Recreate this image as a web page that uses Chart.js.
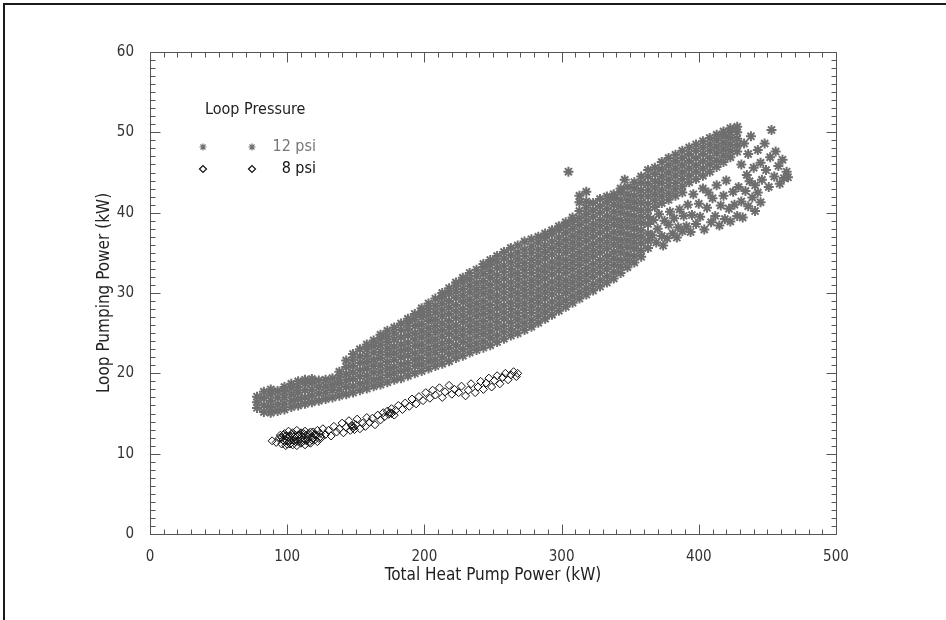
<!DOCTYPE html>
<html><head><meta charset="utf-8">
<script src="https://cdn.jsdelivr.net/npm/chart.js@4/dist/chart.umd.min.js"></script>
<style>
html,body{margin:0;padding:0;background:#fff;}
#wrap{position:relative;width:946px;height:620px;overflow:hidden;}
#frame{position:absolute;left:3px;top:3px;width:960px;height:640px;border-left:2px solid #1a1a1a;border-top:2px solid #1a1a1a;pointer-events:none;}
</style></head><body>
<div id="wrap"><canvas id="c" width="946" height="620"></canvas><div id="frame"></div></div>
<script>
const FONT = "'Liberation Sans Narrow','Arial Narrow','DejaVu Sans Condensed',sans-serif";
const xTickValues = [0,100,200,300,400,500];
const yTickValues = [0,10,20,30,40,50,60];
const xTitle = 'Total Heat Pump Power (kW)';
const yTitle = 'Loop Pumping Power (kW)';
const legendTitle = 'Loop Pressure';
const seriesNames = ['12 psi','8 psi'];

// 12 psi, dense part: columns of [total heat pump power kW, [loop pumping power kW ...]]
const psi12Columns = [
[78,[15.7,16.4,17.1]],
[83,[15.2,16.0,16.9,17.7]],
[88,[15.1,15.8,16.6,17.4,18.0]],
[93,[15.3,16.1,17.0,17.8]],
[98,[15.5,16.2,17.0,17.7,18.3]],
[103,[15.8,16.6,17.4,18.2,18.7]],
[108,[16.0,16.8,17.6,18.3,19.0]],
[113,[16.2,17.0,17.9,18.7,19.2]],
[118,[16.4,17.2,18.0,18.8,19.3]],
[123,[16.6,17.5,18.3,19.1]],
[128,[16.8,17.6,18.4,19.2]],
[133,[17.0,17.9,18.6,19.4]],
[138,[17.2,18.0,18.8,19.5,20.2]],
[143,[17.4,18.3,19.1,19.9,20.8,21.6]],
[148,[17.6,18.4,19.3,20.1,20.9,21.7,22.4]],
[153,[17.9,18.7,19.6,20.4,21.3,22.1,23.0]],
[158,[18.1,18.9,19.7,20.6,21.4,22.2,23.0,23.6]],
[163,[18.4,19.2,20.1,20.9,21.7,22.6,23.4,24.1]],
[168,[18.6,19.4,20.2,21.0,21.9,22.7,23.5,24.3,24.8]],
[173,[18.9,19.8,20.6,21.4,22.3,23.1,23.9,24.6,25.3]],
[178,[19.2,20.0,20.8,21.7,22.5,23.3,24.2,25.0,25.7]],
[183,[19.4,20.3,21.1,22.0,22.8,23.6,24.5,25.4,26.2]],
[188,[19.7,20.5,21.3,22.2,23.0,23.8,24.7,25.5,26.2,26.8]],
[193,[20.0,20.9,21.7,22.5,23.4,24.2,25.0,25.9,26.7,27.4]],
[198,[20.3,21.1,21.9,22.8,23.6,24.5,25.3,26.1,27.0,27.6,28.1]],
[203,[20.6,21.5,22.3,23.1,24.0,24.8,25.6,26.5,27.3,28.0,28.7]],
[208,[20.9,21.7,22.6,23.4,24.2,25.1,25.9,26.7,27.6,28.4,29.3]],
[213,[21.2,22.0,22.9,23.7,24.6,25.4,26.2,27.1,27.9,28.7,29.5,30.0]],
[218,[21.5,22.4,23.2,24.0,24.9,25.7,26.5,27.4,28.2,29.0,29.9,30.6]],
[223,[21.9,22.7,23.5,24.4,25.2,26.0,26.9,27.7,28.5,29.4,30.2,30.9,31.3]],
[228,[22.2,23.0,23.9,24.7,25.5,26.4,27.2,28.0,28.9,29.7,30.5,31.3,31.9]],
[233,[22.6,23.4,24.2,25.1,25.9,26.7,27.6,28.4,29.2,30.1,30.9,31.7,32.5]],
[238,[22.9,23.7,24.6,25.4,26.2,27.1,27.9,28.7,29.6,30.4,31.2,32.1,32.9]],
[243,[23.2,24.0,24.9,25.7,26.5,27.4,28.2,29.0,29.9,30.7,31.5,32.4,33.2,33.6]],
[248,[23.5,24.4,25.2,26.0,26.9,27.7,28.5,29.4,30.2,31.0,31.9,32.7,33.5,34.1]],
[253,[23.9,24.7,25.6,26.4,27.2,28.1,28.9,29.7,30.6,31.4,32.2,33.1,33.9,34.6]],
[258,[24.3,25.1,25.9,26.8,27.6,28.4,29.3,30.1,30.9,31.8,32.6,33.4,34.3,35.1]],
[263,[24.7,25.5,26.3,27.2,28.0,28.8,29.7,30.5,31.3,32.2,33.0,33.8,34.7,35.6]],
[268,[25.0,25.9,26.7,27.5,28.4,29.2,30.0,30.9,31.7,32.5,33.4,34.2,35.0,35.9]],
[273,[25.4,26.2,27.1,27.9,28.7,29.6,30.4,31.2,32.1,32.9,33.7,34.6,35.4,36.4]],
[278,[25.8,26.6,27.5,28.3,29.1,30.0,30.8,31.6,32.5,33.3,34.1,35.0,35.8,36.7]],
[283,[26.3,27.1,27.9,28.8,29.6,30.4,31.3,32.1,32.9,33.8,34.6,35.4,36.3,37.0]],
[288,[26.8,27.6,28.4,29.3,30.1,30.9,31.8,32.6,33.4,34.3,35.1,35.9,36.8,37.4]],
[293,[27.3,28.1,28.9,29.8,30.6,31.4,32.3,33.1,33.9,34.8,35.6,36.4,37.3,37.8]],
[298,[27.8,28.6,29.4,30.3,31.1,31.9,32.8,33.6,34.4,35.3,36.1,36.9,37.8,38.3]],
[303,[28.3,29.1,30.0,30.8,31.6,32.5,33.3,34.1,35.0,35.8,36.6,37.5,38.3,38.8]],
[308,[28.8,29.6,30.5,31.3,32.1,33.0,33.8,34.6,35.5,36.3,37.1,38.0,38.8,39.4]],
[313,[29.3,30.1,31.0,31.8,32.6,33.5,34.3,35.1,36.0,36.8,37.6,38.5,39.3,40.2,41.3,42.1]],
[318,[29.8,30.6,31.5,32.3,33.1,34.0,34.8,35.6,36.5,37.3,38.1,39.0,39.8,40.6,41.4,42.6]],
[323,[30.3,31.1,32.0,32.8,33.6,34.5,35.3,36.1,37.0,37.8,38.6,39.5,40.3,41.2]],
[328,[30.8,31.6,32.5,33.3,34.1,35.0,35.8,36.6,37.5,38.3,39.1,40.0,40.8,41.7]],
[333,[31.3,32.1,33.0,33.8,34.6,35.5,36.3,37.1,38.0,38.8,39.6,40.5,41.3,42.0]],
[338,[31.8,32.6,33.5,34.3,35.1,36.0,36.8,37.6,38.5,39.3,40.1,41.0,41.8,42.3]],
[343,[32.5,33.3,34.1,35.0,35.8,36.6,37.5,38.3,39.1,40.0,40.8,41.6,42.5,43.0]],
[348,[33.2,34.0,34.8,35.7,36.5,37.3,38.2,39.0,39.8,40.7,41.5,42.3,43.2]],
[353,[33.8,34.6,35.5,36.3,37.1,38.0,38.8,39.6,40.5,41.3,42.1,43.0,43.8]],
[358,[34.5,35.3,36.2,37.0,37.8,38.7,39.5,40.3,41.2,42.0,42.8,43.7,44.5]],
[363,[35.6,36.5,37.4,38.6,39.5,40.3,41.1,42.0,42.8,43.6,44.5,45.3]],
[368,[40.7,41.5,42.3,43.1,43.9,44.8,45.6]],
[373,[41.2,42.0,42.8,43.7,44.5,45.4,46.3]],
[378,[41.6,42.4,43.3,44.1,45.0,45.9,46.8]],
[383,[42.1,42.9,43.7,44.6,45.5,46.4,47.2]],
[388,[42.5,43.3,44.2,45.0,45.9,46.8,47.7]],
[393,[43.8,44.6,45.5,46.4,47.3,48.1]],
[398,[44.2,45.1,45.9,46.8,47.7,48.5]],
[403,[44.6,45.5,46.4,47.3,48.1,48.9]],
[408,[45.1,46.0,46.8,47.7,48.5,49.3]],
[413,[45.7,46.5,47.4,48.2,49.0,49.7]],
[418,[46.3,47.1,47.9,48.7,49.5,50.1]],
[423,[46.9,47.7,48.5,49.3,50.0,50.5]],
[428,[47.6,48.4,49.2,50.0,50.7]]
];

// 12 psi, scattered points: [total heat pump power kW, loop pumping power kW]
const psi12Scatter = [
[305,45.1],[346,44.1],
[366,37.2],[367,39.1],[369,36.3],[370,38.0],[371,39.8],[373,37.1],[374,35.9],[375,39.0],
[377,36.8],[378,38.5],[379,40.1],[381,37.4],[382,39.3],[384,36.9],[385,38.2],[386,40.4],[388,37.7],[389,39.6],
[391,38.3],[392,41.0],[394,37.6],[395,39.7],[396,42.3],[398,38.6],[400,41.1],[401,39.5],[403,43.0],[404,37.9],
[406,40.6],[407,42.5],[409,38.8],[410,41.8],[412,39.6],[413,43.4],[415,38.4],[416,40.9],[418,42.1],[419,39.2],
[420,44.0],[422,40.5],[423,38.9],[425,42.6],[426,41.0],[428,39.6],[429,43.2],[431,41.4],[432,39.4],[434,42.7],
[436,40.8],[437,43.9],[439,41.9],[441,40.2],[443,42.5],[445,41.3],
[431,46.0],[433,48.6],[435,44.7],[436,47.3],[438,49.5],[440,45.6],[441,43.4],[443,47.8],[445,46.2],[446,44.1],
[448,48.6],[449,45.3],[451,43.2],[452,46.9],[453,50.3],[455,44.5],[456,47.6],[458,45.8],[459,43.6],[461,46.6],
[462,44.3],[464,45.1],[465,44.4]
];

// 8 psi: [total heat pump power kW, loop pumping power kW]
const psi8Points = [
[89,11.6],[92,11.4],[94,11.9],[95,12.3],[96,11.2],[97,11.7],[98,12.5],[99,11.0],[100,12.0],[101,12.8],
[101,11.4],[102,12.2],[103,11.7],[104,11.1],[104,12.6],[105,12.1],[106,11.5],[107,12.9],[107,11.0],[108,12.3],
[109,11.8],[110,12.6],[110,11.3],[111,12.1],[112,11.6],[113,12.8],[113,11.1],[114,12.3],[115,11.8],[116,12.5],
[117,11.3],[118,12.1],[119,12.7],[120,11.7],[121,12.3],[122,12.9],[123,11.9],[124,12.5],[125,12.0],[126,13.1],
[96,12.0],[98,11.5],[99,12.2],[100,11.6],[102,11.2],[103,12.4],[105,11.6],[106,12.3],[108,11.5],[109,12.4],
[111,11.5],[112,12.5],[114,11.6],[115,12.1],[116,11.4],[117,12.7],[119,11.9],[120,12.4],[122,11.5],[124,12.1],
[97,12.3],[100,11.2],[106,11.9],[112,11.9],[118,11.7],
[128,12.4],[130,12.9],[132,12.2],[134,13.4],[136,12.7],[138,13.1],[140,13.8],[141,12.6],[143,13.3],[145,14.1],
[146,12.9],[147,13.5],[148,13.2],[149,13.0],[148,13.4],[150,13.6],[151,14.3],[153,13.1],[155,13.8],[157,13.4],
[158,14.5],[160,13.9],[162,14.4],[164,13.6],[166,14.8],[168,14.2],[170,15.1],[171,14.6],[173,15.3],[174,14.9],
[175,15.1],[176,15.0],[176,15.6],[178,14.8],[179,15.4],[181,16.0],[184,15.5],[186,16.3],[189,15.9],[191,16.8],
[194,16.2],[196,17.1],[199,16.6],[201,17.6],[204,16.9],[206,17.9],[208,17.3],[211,18.2],[213,17.0],[215,17.7],
[218,18.5],[220,17.4],[222,18.0],[225,17.6],[227,18.4],[230,17.2],[232,17.9],[234,18.7],[237,17.6],[239,18.3],
[241,19.0],[243,18.0],[245,18.8],[247,19.4],[249,18.3],[251,19.1],[253,19.7],[255,18.7],[257,19.5],[259,20.0],
[261,19.2],[263,19.8],[265,20.2],[267,19.6],[268,20.0]
];

const psi12Points = [];
psi12Columns.forEach(([x, ys]) => ys.forEach(y => psi12Points.push({x, y})));
psi12Scatter.forEach(([x, y]) => psi12Points.push({x, y}));
const psi8Data = psi8Points.map(([x, y]) => ({x, y}));

const GRAY = '#6e6e6e';

const frameTicks = {
  id: 'frameTicks',
  beforeDatasetsDraw(chart) {
    const {ctx, chartArea: a, scales: {x, y}} = chart;
    ctx.save();
    ctx.strokeStyle = '#555';
    ctx.lineWidth = 1;
    const L = Math.round(a.left) + 0.5, R = Math.round(a.right) + 0.5;
    const T = Math.round(a.top) + 0.5, B = Math.round(a.bottom) + 0.5;
    ctx.beginPath();
    ctx.rect(L, T, R - L, B - T);
    for (let v = x.min; v <= x.max; v += 10) {
      const p = Math.round(x.getPixelForValue(v)) + 0.5;
      const len = v % 100 === 0 ? 10 : 5;
      ctx.moveTo(p, B); ctx.lineTo(p, B - len);
      ctx.moveTo(p, T); ctx.lineTo(p, T + len);
    }
    for (let v = y.min; v <= y.max; v += 1) {
      const p = Math.round(y.getPixelForValue(v)) + 0.5;
      const len = v % 10 === 0 ? 10 : 5;
      ctx.moveTo(L, p); ctx.lineTo(L + len, p);
      ctx.moveTo(R, p); ctx.lineTo(R - len, p);
    }
    ctx.stroke();
    ctx.restore();
  }
};

const customLegend = {
  id: 'customLegend',
  afterDatasetsDraw(chart) {
    const {ctx, chartArea: a} = chart;
    const ds = chart.data.datasets;
    const lx = a.left + 55, rowY = [a.top + 95, a.top + 117];
    ctx.save();
    ctx.font = `16px ${FONT}`;
    ctx.textBaseline = 'middle';
    ctx.textAlign = 'left';
    ctx.fillStyle = '#222';
    ctx.fillText(legendTitle, lx, a.top + 58);
    ds.forEach((d, i) => {
      ctx.strokeStyle = d.borderColor;
      ctx.fillStyle = 'rgba(0,0,0,0)';
      ctx.lineWidth = 1.2;
      const opts = {pointStyle: d.pointStyle, radius: 3.5, borderWidth: 1.2, rotation: 0};
      Chart.helpers.drawPoint(ctx, opts, lx - 2, rowY[i]);
      Chart.helpers.drawPoint(ctx, opts, lx + 47, rowY[i]);
      ctx.fillStyle = i === 0 ? '#777' : '#111';
      ctx.textAlign = 'right';
      ctx.fillText(seriesNames[i], lx + 111, rowY[i]);
    });
    ctx.restore();
  }
};

new Chart(document.getElementById('c'), {
  type: 'scatter',
  data: {
    datasets: [
      {label: seriesNames[0], data: psi12Points, pointStyle: 'star', radius: 5, borderWidth: 2,
       borderColor: GRAY, backgroundColor: GRAY},
      {label: seriesNames[1], data: psi8Data, pointStyle: 'rectRot', radius: 4, borderWidth: 1,
       borderColor: '#111', backgroundColor: 'rgba(0,0,0,0)'}
    ]
  },
  options: {
    responsive: false,
    devicePixelRatio: 1,
    animation: false,
    events: [],
    layout: {padding: {left: 92, right: 110, top: 52, bottom: 34}},
    plugins: {legend: {display: false}, tooltip: {enabled: false}},
    scales: {
      x: {
        type: 'linear', position: 'bottom', min: 0, max: 500,
        afterBuildTicks: s => { s.ticks = xTickValues.map(v => ({value: v})); },
        afterFit: s => { s.height = 52; },
        grid: {display: false}, border: {display: false},
        ticks: {padding: 6, color: '#333', font: {family: FONT, size: 15}, maxRotation: 0},
        title: {display: true, text: xTitle, color: '#222', padding: 0, font: {family: FONT, size: 17}}
      },
      y: {
        type: 'linear', position: 'left', min: 0, max: 60,
        afterBuildTicks: s => { s.ticks = yTickValues.map(v => ({value: v})); },
        afterFit: s => { s.width = 58; },
        grid: {display: false}, border: {display: false},
        ticks: {padding: 8, color: '#333', font: {family: FONT, size: 15}},
        title: {display: true, text: yTitle, color: '#222', padding: {top: 2, bottom: 0}, font: {family: FONT, size: 17}}
      }
    }
  },
  plugins: [frameTicks, customLegend]
});
</script>
</body></html>
